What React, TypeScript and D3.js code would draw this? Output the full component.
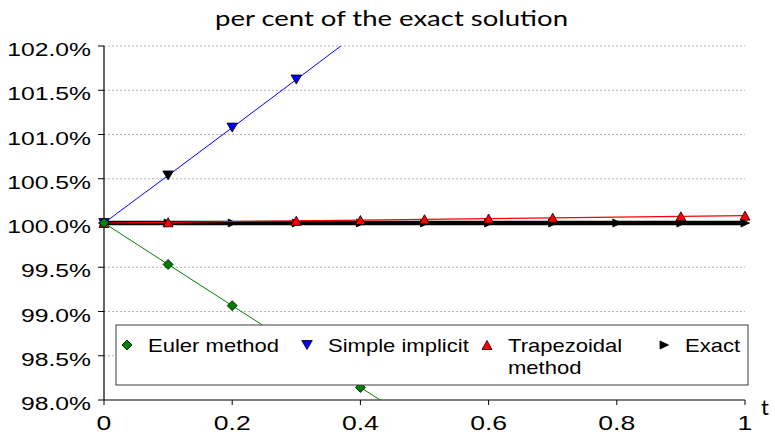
import React from "react";
import * as d3 from "d3";

// Time steps (h = 0.1) and each method's value as a percentage of the exact solution
const tValues = [0, 0.1, 0.2, 0.3, 0.4, 0.5, 0.6, 0.7, 0.8, 0.9, 1.0];
const eulerPct = [100, 99.532, 99.066, 98.603, 98.142, 97.682, 97.225, 96.77, 96.318, 95.867, 95.418];
const implicitPct = [100, 100.537, 101.078, 101.621, 102.167, 102.717, 103.269, 103.824, 104.382, 104.943, 105.507];
const trapezoidalPct = [100, 100.008, 100.017, 100.025, 100.033, 100.042, 100.05, 100.058, 100.067, 100.075, 100.083];
const exactPct = [100, 100, 100, 100, 100, 100, 100, 100, 100, 100, 100];

const yTicks = [98, 98.5, 99, 99.5, 100, 100.5, 101, 101.5, 102];
const xTicks = [0, 0.2, 0.4, 0.6, 0.8, 1];

const legendItems = [
  { key: "euler", label: ["Euler method"] },
  { key: "implicit", label: ["Simple implicit"] },
  { key: "trap", label: ["Trapezoidal", "method"] },
  { key: "exact", label: ["Exact"] },
];

const W = 775;
const H = 437;
const left = 104;
const right = 745;
const top = 46;
const bottom = 400;

const x = d3.scaleLinear().domain([0, 1]).range([left, right]);
const y = d3.scaleLinear().domain([98, 102]).range([bottom, top]);

const axisFont = "'Liberation Sans', Arial, sans-serif";
const titleFont = "Lato, 'DejaVu Sans', sans-serif";

type Pt = [number, number];
const pts = (vals: number[]): Pt[] => tValues.map((t, i) => [t, vals[i]] as Pt);
const lineGen = d3
  .line<Pt>()
  .x((d) => x(d[0]))
  .y((d) => y(d[1]));

// Marker shapes centred on (0,0)
const diamond = "M0,-5 L5,0 L0,5 L-5,0 Z";
const triDown = "M-5.3,-4.5 L5.3,-4.5 L0,4.5 Z";
const triUp = "M-5,4.5 L5,4.5 L0,-4.6 Z";
const triRight = "M-4,-4 L4.5,0 L-4,4 Z";

const markerStyle: Record<string, { d: string; fill: string }> = {
  euler: { d: diamond, fill: "#008000" },
  implicit: { d: triDown, fill: "#0000ff" },
  trap: { d: triUp, fill: "#ff0000" },
  exact: { d: triRight, fill: "#000000" },
};

const inRange = (v: number) => v >= 98 - 1e-9 && v <= 102 + 1e-9;

function Markers({
  vals,
  kind,
  fillFor,
  skip = [],
}: {
  vals: number[];
  kind: string;
  fillFor?: (i: number) => string;
  skip?: number[];
}) {
  const m = markerStyle[kind];
  return (
    <g>
      {tValues.map((t, i) =>
        inRange(vals[i]) && !skip.includes(i) ? (
          <path
            key={i}
            d={m.d}
            transform={`translate(${x(t)},${y(vals[i])})`}
            fill={fillFor ? fillFor(i) : m.fill}
            stroke="#000"
            strokeWidth={0.8}
          />
        ) : null
      )}
    </g>
  );
}

function StretchText({
  x0,
  y0,
  sx,
  size,
  anchor,
  family,
  children,
}: {
  x0: number;
  y0: number;
  sx: number;
  size: number;
  anchor: "start" | "middle" | "end";
  family: string;
  children: React.ReactNode;
}) {
  return (
    <text
      transform={`translate(${x0},${y0}) scale(${sx},1)`}
      fontSize={size}
      fontFamily={family}
      textAnchor={anchor}
      fill="#000"
    >
      {children}
    </text>
  );
}

export default function App() {
  const legendX = [127, 307, 487, 664];
  const legendY = 345;
  return (
    <svg
      width={W}
      height={H}
      style={{ position: "absolute", left: 0, top: 0, background: "#fff" }}
    >
      <defs>
        <clipPath id="plotClip">
          <rect x={left} y={top} width={right - left} height={bottom - top} />
        </clipPath>
      </defs>

      {/* title */}
      <text
        x={391.5}
        y={26}
        fontSize={22}
        fontFamily={titleFont}
        textAnchor="middle"
        textLength={353}
        lengthAdjust="spacingAndGlyphs"
      >
        per cent of the exact solution
      </text>

      {/* horizontal grid */}
      {yTicks
        .filter((v) => v !== 98)
        .map((v) => (
          <line
            key={v}
            x1={left}
            x2={right}
            y1={y(v)}
            y2={y(v)}
            stroke="#b4b4b4"
            strokeWidth={1}
            strokeDasharray="2,2"
          />
        ))}

      {/* y axis */}
      <line x1={left} x2={left} y1={top} y2={bottom} stroke="#000" strokeWidth={1.2} />
      {yTicks.map((v) => (
        <g key={v}>
          <line x1={left - 6} x2={left} y1={y(v)} y2={y(v)} stroke="#000" />
          <StretchText x0={91} y0={y(v) + 10} sx={1.3} size={19} anchor="end" family={axisFont}>
            {v.toFixed(1)}%
          </StretchText>
        </g>
      ))}

      {/* x axis */}
      <line x1={left} x2={right} y1={bottom} y2={bottom} stroke="#000" strokeWidth={1.2} />
      {xTicks.map((t) => (
        <g key={t}>
          <line x1={x(t)} x2={x(t)} y1={bottom} y2={bottom + 5} stroke="#000" />
          <StretchText x0={x(t)} y0={429.5} sx={1.33} size={20} anchor="middle" family={axisFont}>
            {String(t)}
          </StretchText>
        </g>
      ))}
      <text x={765} y={415} fontSize={22} fontFamily={titleFont} textAnchor="middle">
        t
      </text>

      {/* series lines */}
      <g clipPath="url(#plotClip)">
        <path d={lineGen(pts(exactPct)) || ""} fill="none" stroke="#000" strokeWidth={4.5} />
      </g>
      <Markers vals={exactPct} kind="exact" />
      <g clipPath="url(#plotClip)">
        <path d={lineGen(pts(trapezoidalPct)) || ""} fill="none" stroke="#ff0000" strokeWidth={1.2} />
      </g>
      <Markers vals={trapezoidalPct} kind="trap" skip={[2, 8]} />
      <g clipPath="url(#plotClip)">
        <path d={lineGen(pts(implicitPct)) || ""} fill="none" stroke="#0000ff" strokeWidth={1} />
      </g>
      <Markers vals={implicitPct} kind="implicit" fillFor={(i) => (i === 1 ? "#000" : "#0000ff")} />
      <g clipPath="url(#plotClip)">
        <path d={lineGen(pts(eulerPct)) || ""} fill="none" stroke="#008000" strokeWidth={1} />
      </g>
      <Markers vals={eulerPct} kind="euler" />

      {/* legend */}
      <rect x={116} y={325} width={632} height={60} fill="#fff" stroke="#3c3c3c" strokeWidth={1} />
      {legendItems.map((item, i) => (
        <g key={item.key}>
          <path
            d={markerStyle[item.key].d}
            transform={`translate(${legendX[i]},${legendY})`}
            fill={markerStyle[item.key].fill}
            stroke="#000"
            strokeWidth={0.8}
          />
          {item.label.map((ln, j) => (
            <StretchText
              key={j}
              x0={legendX[i] + 21}
              y0={legendY + 6.5 + j * 22.7}
              sx={1.16}
              size={19}
              anchor="start"
              family={axisFont}
            >
              {ln}
            </StretchText>
          ))}
        </g>
      ))}
    </svg>
  );
}
